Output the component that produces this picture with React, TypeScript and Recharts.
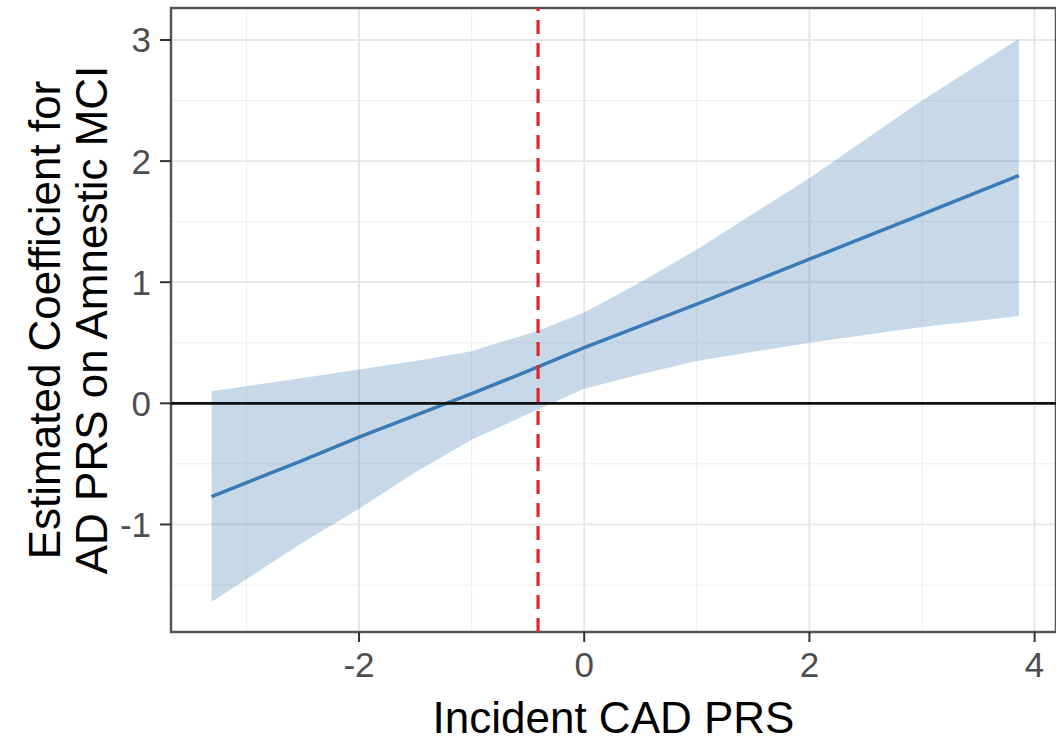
import React from "react";
import {
  ComposedChart,
  Area,
  Line,
  XAxis,
  YAxis,
  CartesianGrid,
  ReferenceLine,
  ReferenceArea,
} from "recharts";

// values
const prsX = [-3.31, -2.5, -2, -1.5, -1, -0.41, 0, 0.5, 1, 2, 3, 3.86];
const fitY = [-0.77, -0.47, -0.28, -0.1, 0.08, 0.3, 0.46, 0.64, 0.82, 1.19, 1.56, 1.88];
const lowerY = [-1.64, -1.15, -0.87, -0.57, -0.3, -0.05, 0.12, 0.24, 0.35, 0.5, 0.63, 0.72];
const upperY = [0.1, 0.21, 0.28, 0.35, 0.43, 0.6, 0.75, 1.0, 1.27, 1.86, 2.5, 3.01];

const xTicks = [-2, 0, 2, 4];
const yTicks = [-1, 0, 1, 2, 3];
const xMinor = [-3, -1, 1, 3];
const yMinor = [-1.5, -0.5, 0.5, 1.5, 2.5];

const xDomain: [number, number] = [-3.67, 4.19];
const yDomain: [number, number] = [-1.888, 3.264];

const cadMean = -0.41;

const FONT = '"Liberation Sans", Arial, Helvetica, sans-serif';

const data = prsX.map((x, i) => ({
  x,
  fit: fitY[i],
  band: [lowerY[i], upperY[i]],
}));

function XTitle(props: any) {
  const vb = props.viewBox || {};
  return (
    <text
      x={vb.x + vb.width / 2}
      y={vb.y + 101}
      textAnchor="middle"
      fontSize={44}
      fill="#000"
      fontFamily={FONT}
    >
      Incident CAD PRS
    </text>
  );
}

function YTitle(props: any) {
  const vb = props.viewBox || {};
  const cy = vb.y + vb.height / 2;
  return (
    <g fontSize={44} fill="#000" fontFamily={FONT}>
      <text x={60} y={cy} textAnchor="middle" transform={`rotate(-90, 60, ${cy})`}>
        Estimated Coefficient for
      </text>
      <text x={107} y={cy} textAnchor="middle" transform={`rotate(-90, 107, ${cy})`}>
        AD PRS on Amnestic MCI
      </text>
    </g>
  );
}

export default function App() {
  return (
    <div style={{ position: "absolute", left: 0, top: 0, width: 1056, height: 741, overflow: "hidden", background: "#fff" }}>
      <ComposedChart
        width={1056}
        height={741}
        data={data}
        margin={{ top: 8, right: 0, bottom: 0, left: 0 }}
      >
        <CartesianGrid stroke="#ececec" strokeWidth={0.9} verticalValues={xMinor} horizontalValues={yMinor} />
        <CartesianGrid stroke="#e6e6e6" strokeWidth={1.8} verticalValues={xTicks} horizontalValues={yTicks} />
        <XAxis
          dataKey="x"
          type="number"
          domain={xDomain}
          ticks={xTicks}
          allowDataOverflow
          height={109}
          tickSize={10}
          tickMargin={10}
          axisLine={false}
          tickLine={{ stroke: "#333", strokeWidth: 2 }}
          tick={{ fontSize: 35, fill: "#4d4d4d", fontFamily: FONT }}
          label={<XTitle />}
        />
        <YAxis
          type="number"
          domain={yDomain}
          ticks={yTicks}
          allowDataOverflow
          width={171}
          tickSize={11}
          tickMargin={9}
          axisLine={false}
          tickLine={{ stroke: "#333", strokeWidth: 2 }}
          tick={{ fontSize: 35, fill: "#4d4d4d", fontFamily: FONT }}
          label={<YTitle />}
        />
        <Area
          dataKey="band"
          type="linear"
          stroke="none"
          fill="#4682b4"
          fillOpacity={0.3}
          isAnimationActive={false}
        />
        <Line
          dataKey="fit"
          type="linear"
          stroke="#3a7bb6"
          strokeWidth={3.5}
          dot={false}
          isAnimationActive={false}
        />
        <ReferenceLine y={0} stroke="#111" strokeWidth={2.8} />
        <ReferenceLine x={cadMean} stroke="#e3242b" strokeWidth={3.2} strokeDasharray="14 9" />
        <ReferenceArea
          x1={xDomain[0]}
          x2={xDomain[1]}
          y1={yDomain[0]}
          y2={yDomain[1]}
          fill="none"
          fillOpacity={0}
          stroke="#555"
          strokeWidth={2.5}
        />
      </ComposedChart>
    </div>
  );
}
